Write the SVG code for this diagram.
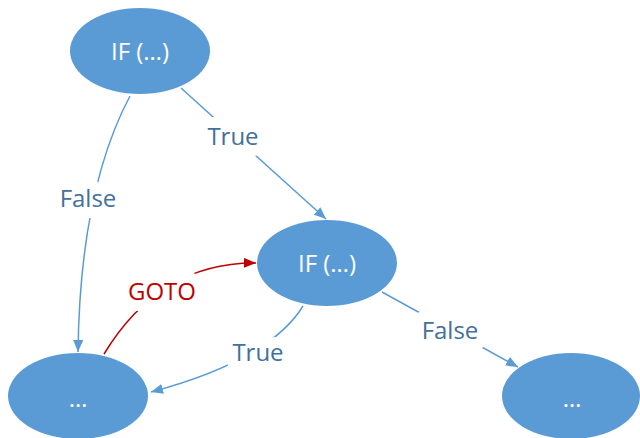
<svg xmlns="http://www.w3.org/2000/svg" width="640" height="438" viewBox="0 0 640 438">
  <defs>
    <marker id="arrowBlue" viewBox="0 0 12 10" refX="12" refY="5" markerWidth="12" markerHeight="10" markerUnits="userSpaceOnUse" orient="auto">
      <path d="M0,0 L12,5 L0,10 Z" fill="#5B9BD5"/>
    </marker>
    <marker id="arrowRed" viewBox="0 0 12 10" refX="12" refY="5" markerWidth="12" markerHeight="10" markerUnits="userSpaceOnUse" orient="auto">
      <path d="M0,0 L12,5 L0,10 Z" fill="#C00000"/>
    </marker>
    <style>
      .node { fill: #5B9BD5; }
      .nlabel { font-family: "Open Sans", "Liberation Sans", sans-serif; font-size: 24px; fill: #FFFFFF; text-anchor: middle; }
      .edge { fill: none; stroke: #5B9BD5; stroke-width: 1.5; marker-end: url(#arrowBlue); }
      .edge.goto { stroke: #C00000; marker-end: url(#arrowRed); }
      .elabel { font-family: "Open Sans", "Liberation Sans", sans-serif; font-size: 24px; fill: #41719C; text-anchor: middle; stroke: #FFFFFF; stroke-width: 22px; stroke-linejoin: round; paint-order: stroke; }
      .elabel.goto { fill: #C00000; }
    </style>
  </defs>

  <g id="connectors">
    <path class="edge" d="M181,88 L326,219"/>
    <path class="edge" d="M130,96 Q80,190 78,352"/>
    <path class="edge" d="M303,306 Q270,360 151,392"/>
    <path class="edge" d="M382,292 L518,367"/>
    <path class="edge goto" d="M104,354 Q160,262 256,263"/>
    <text class="elabel" x="233" y="145">True</text>
    <text class="elabel" x="88" y="207">False</text>
    <text class="elabel goto" x="162" y="300">GOTO</text>
    <text class="elabel" x="258" y="361">True</text>
    <text class="elabel" x="450" y="339">False</text>
  </g>

  <g id="if-top">
    <ellipse class="node" cx="140" cy="51" rx="70" ry="43"/>
    <text class="nlabel" x="140" y="60">IF (…)</text>
  </g>
  <g id="if-mid">
    <ellipse class="node" cx="327" cy="263" rx="70" ry="43"/>
    <text class="nlabel" x="327" y="272">IF (…)</text>
  </g>
  <g id="block-left">
    <ellipse class="node" cx="78" cy="396" rx="70" ry="43"/>
    <text class="nlabel" x="78" y="407">…</text>
  </g>
  <g id="block-right">
    <ellipse class="node" cx="571" cy="396" rx="69" ry="43"/>
    <text class="nlabel" x="572" y="407">…</text>
  </g>
</svg>
